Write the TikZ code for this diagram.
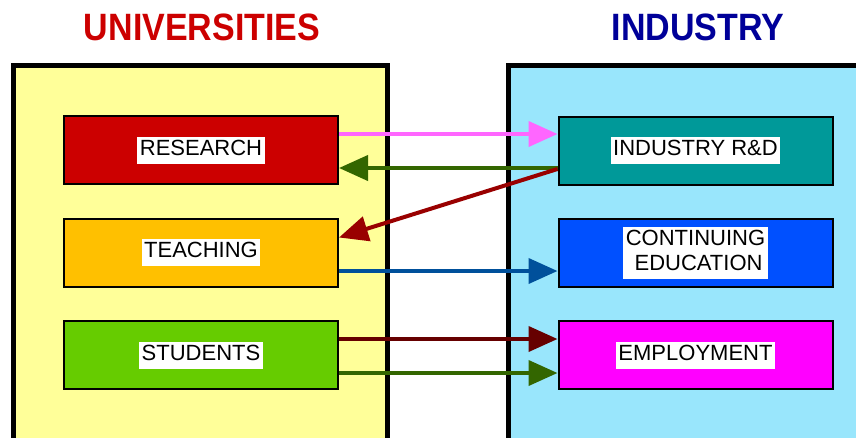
\documentclass[tikz,border=0pt]{standalone}
\usepackage{fontspec}
\setmainfont{Liberation Sans}
\usetikzlibrary{arrows.meta}
\definecolor{uniyellow}{HTML}{FFFF99}
\definecolor{indblue}{HTML}{99E6FC}
\definecolor{unired}{HTML}{CC0000}
\definecolor{indnavy}{HTML}{000099}
\definecolor{resred}{HTML}{CC0000}
\definecolor{teachorange}{HTML}{FFC000}
\definecolor{studgreen}{HTML}{66CC00}
\definecolor{rdteal}{HTML}{009999}
\definecolor{edblue}{HTML}{0050FF}
\definecolor{empmag}{HTML}{FF00FF}
\definecolor{apink}{HTML}{FF66FF}
\definecolor{agreen}{HTML}{336600}
\definecolor{adred}{HTML}{990000}
\definecolor{ablue}{HTML}{00509B}
\definecolor{amaroon}{HTML}{660000}
\tikzset{
  panel/.style={draw=black, line width=5pt},
  box/.style={draw=black, line width=2pt, minimum width=274pt, minimum height=68pt, inner sep=0pt, font=\fontsize{22}{25}\selectfont},
  title/.style={font=\fontsize{34}{40}\selectfont\bfseries, inner sep=0pt},
  conn/.style={line width=4pt, -{Triangle[length=29pt,width=25pt]}},
}
\setlength{\fboxsep}{1pt}
\newcommand{\wlabel}[1]{\colorbox{white}{\hspace{1.5pt}\strut#1\hspace{1.5pt}}}
\newcommand{\tallt}[1]{\scalebox{1}[1.12]{#1}}
\begin{document}
\begin{tikzpicture}[x=1pt,y=1pt]
\useasboundingbox (0,0) rectangle (856,-437);
\begin{scope}
\clip (0,0) rectangle (856,-437);
\fill[white] (0,0) rectangle (856,-437);
\filldraw[panel, fill=uniyellow] (13.5,-65.5) rectangle (387.5,-450);
\filldraw[panel, fill=indblue] (508.5,-65.5) rectangle (870,-450);
\end{scope}
\node[title, text=unired] (tuni) at (202,-27.5) {\tallt{UNIVERSITIES}};
\node[title, text=indnavy] (tind) at (698,-27.5) {\tallt{INDUSTRY}};

\node[box, fill=resred] (res) at (201,-150) {\wlabel{RESEARCH}};
\node[box, fill=teachorange] (teach) at (201,-252.5) {\wlabel{TEACHING}};
\node[box, fill=studgreen] (stud) at (201,-355) {\wlabel{STUDENTS}};

\node[box, fill=rdteal] (rd) at (695.5,-150.5) {\wlabel{INDUSTRY R\&D}};
\node[box, fill=edblue] (ed) at (695.5,-252.5) {\colorbox{white}{\hspace{1.5pt}\begin{tabular}{@{}c@{}}\strut CONTINUING\\ \strut\ EDUCATION\end{tabular}\hspace{1.5pt}}};
\node[box, fill=empmag] (emp) at (695.5,-355) {\wlabel{EMPLOYMENT}};

\draw[conn, apink] ([yshift=16pt]res.east) -- ([yshift=16.5pt]rd.west);
\draw[conn, agreen] ([yshift=-17.5pt]rd.west) -- ([yshift=-18pt]res.east);
\draw[conn, adred] ([yshift=-18.5pt]rd.west) -- ([yshift=15pt]teach.east);
\draw[conn, ablue] ([yshift=-18.5pt]teach.east) -- ([yshift=-18.5pt]ed.west);
\draw[conn, amaroon] ([yshift=16pt]stud.east) -- ([yshift=16pt]emp.west);
\draw[conn, agreen] ([yshift=-18pt]stud.east) -- ([yshift=-18pt]emp.west);
\end{tikzpicture}
\end{document}
